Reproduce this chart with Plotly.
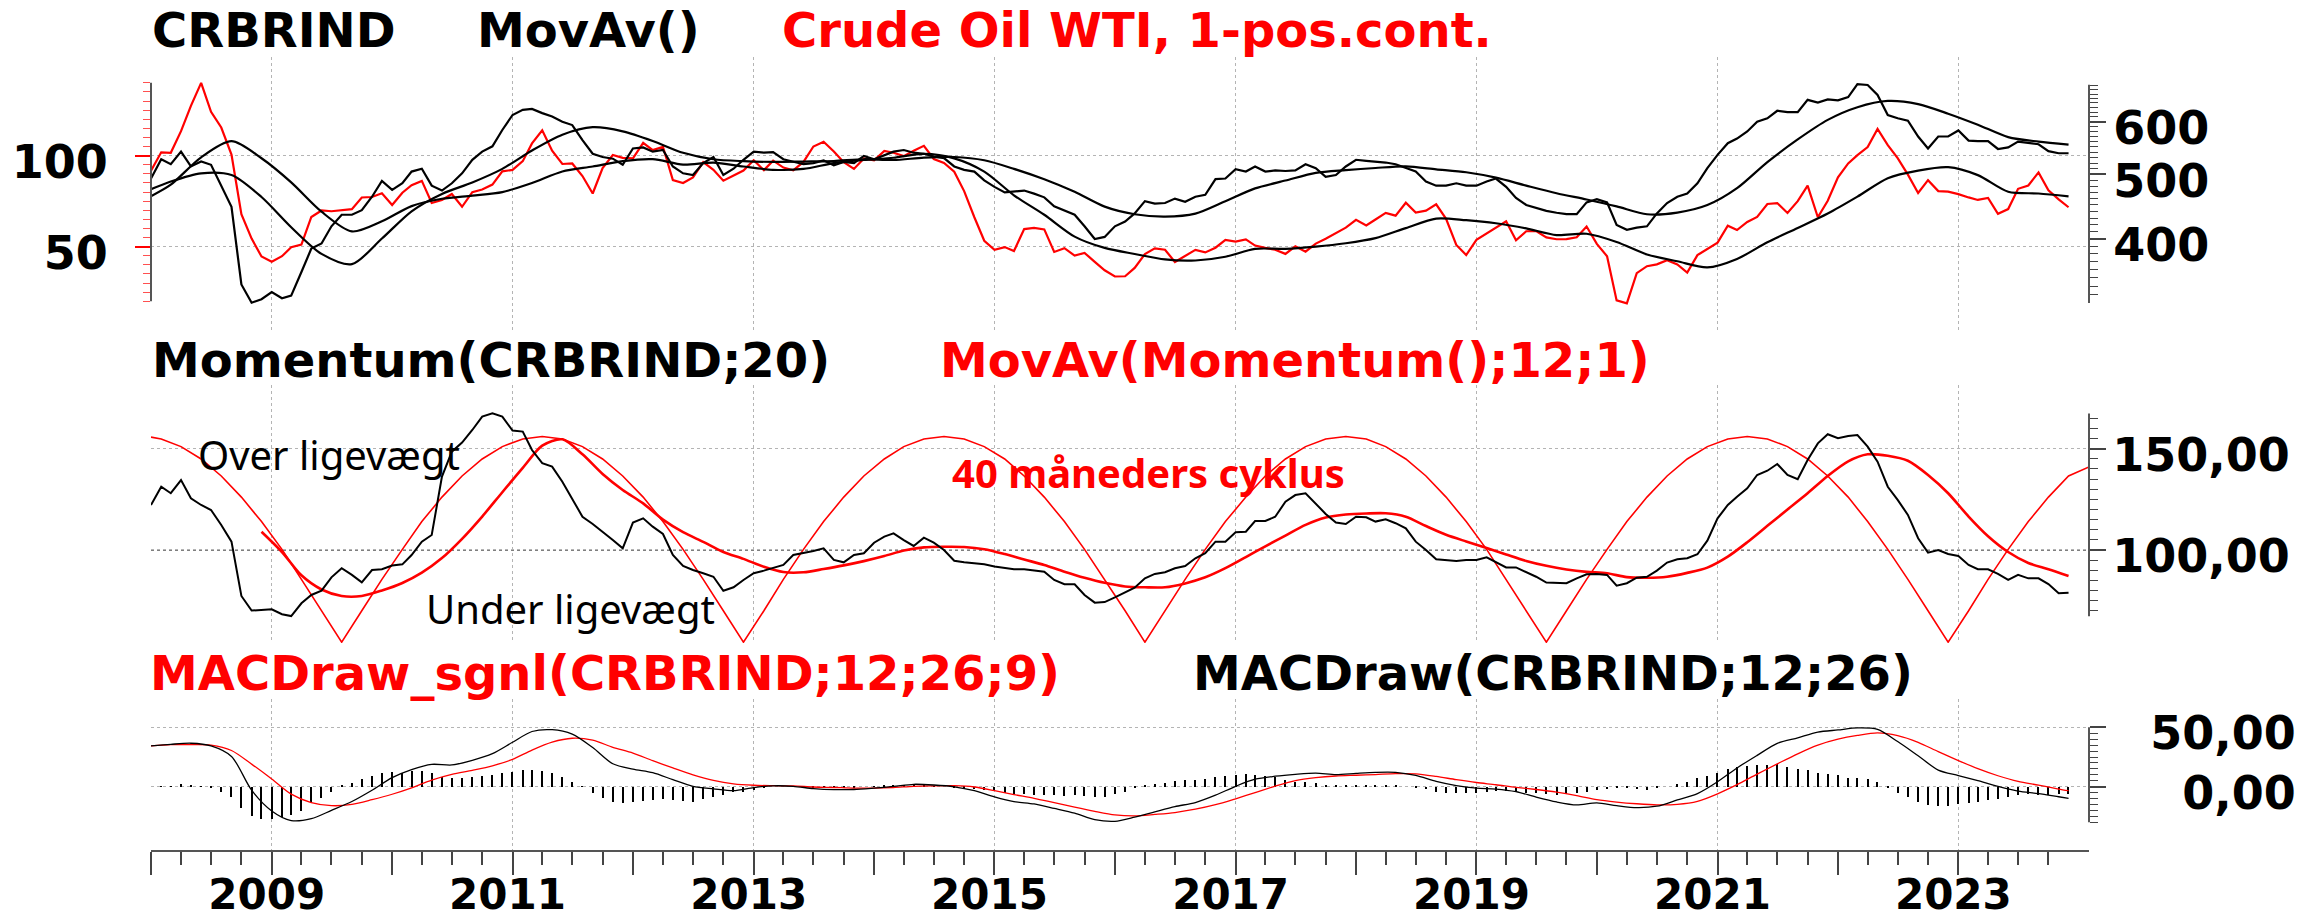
import pandas as pd
import plotly.graph_objects as go

# ---------------- data (monthly, first month = Jan 2008) ----------------
START = pd.Timestamp("2008-01-01")
X_END = "2024-02-01"

wti = [
    91.75, 101.84, 101.58, 113.46, 127.35, 140.00, 124.08, 115.46, 100.64, 67.81, 54.43, 44.60,
    41.68, 44.76, 49.66, 51.12, 66.31, 69.89, 69.45, 69.96, 70.61, 77.00, 77.28, 79.36,
    72.89, 79.66, 83.76, 86.15, 73.97, 75.63, 78.95, 71.92, 79.97, 81.43, 84.11, 91.38,
    92.19, 96.97, 106.72, 113.93, 102.70, 95.42, 95.70, 88.81, 79.20, 93.19, 100.36, 98.83,
    98.48, 107.07, 103.02, 104.87, 86.53, 84.96, 88.06, 96.47, 92.19, 86.24, 88.91, 91.82,
    97.49, 92.05, 97.23, 93.46, 91.97, 96.56, 105.03, 107.65, 102.33, 96.38, 92.72, 98.42,
    97.49, 102.59, 101.58, 99.74, 102.71, 105.37, 98.17, 95.96, 91.16, 80.54, 66.15, 53.27,
    48.24, 49.76, 47.60, 59.63, 60.30, 59.47, 47.12, 49.20, 45.09, 46.59, 41.65, 37.04,
    33.62, 33.75, 38.34, 45.92, 49.10, 48.33, 41.60, 44.70, 48.24, 46.86, 49.44, 53.72,
    52.81, 54.01, 50.60, 49.33, 48.32, 46.04, 50.17, 47.23, 51.67, 54.38, 57.40, 60.42,
    64.73, 61.64, 64.94, 68.57, 67.04, 74.15, 68.76, 69.80, 73.25, 65.31, 50.93, 45.41,
    53.79, 57.22, 60.14, 63.91, 53.50, 58.47, 58.58, 55.10, 54.07, 54.18, 55.17, 61.06,
    51.56, 44.76, 20.48, 18.84, 35.49, 39.27, 40.27, 42.61, 40.22, 35.79, 45.34, 48.52,
    52.20, 61.50, 59.16, 63.58, 66.32, 73.47, 73.95, 68.50, 75.03, 83.57, 66.18, 75.21,
    88.15, 95.72, 100.28, 104.69, 114.67, 105.76, 98.62, 89.55, 79.49, 86.53, 80.55, 80.26,
    78.87, 77.05, 75.67, 76.78, 68.09, 70.64, 81.80, 83.63, 90.79, 81.02, 75.96, 71.65,
]

crb = [
    493, 527, 518, 541, 514, 523, 517, 482, 447, 342, 321, 325,
    333, 326, 329, 357, 387, 394, 418, 435, 435, 442, 463, 489,
    474, 485, 505, 510, 481, 473, 485, 502, 526, 541, 551, 583,
    614, 625, 627, 618, 611, 600, 593, 563, 537, 531, 528, 517,
    547, 549, 541, 544, 514, 502, 499, 520, 531, 499, 510, 526,
    541, 539, 540, 527, 523, 518, 520, 525, 516, 522, 520, 533,
    527, 535, 541, 544, 539, 537, 532, 529, 514, 508, 505, 490,
    479, 470, 471, 473, 468, 462, 448, 442, 435, 418, 400, 403,
    418, 425, 437, 456, 452, 453, 460, 455, 463, 466, 492, 493,
    509, 505, 514, 505, 507, 506, 507, 518, 511, 496, 499, 514,
    526, 524, 523, 521, 518, 512, 505, 488, 481, 481, 485, 481,
    481, 488, 493, 479, 461, 450, 445, 441, 438, 436, 436, 454,
    459, 454, 420, 413, 416, 418, 437, 453, 463, 468, 485, 511,
    535, 557, 566, 580, 600, 607, 623, 620, 620, 647, 641, 648,
    646, 653, 683, 681, 658, 614, 607, 602, 570, 547, 570, 570,
    582, 562, 561, 561, 546, 549, 560, 557, 555, 542, 538, 538,
]

# moving averages read at quarter ends (month offsets)
ma_months = [0] + list(range(2, 192, 3))
wti_ma = [
    77.75,
    84.06, 99.09, 107.95, 98.58, 85.33, 69.20, 58.36, 63.92, 72.27, 76.31,
    78.05, 79.99, 84.95, 91.31, 94.05, 97.00, 98.06, 95.09, 96.17, 94.05,
    92.24, 92.70, 95.90, 97.61, 98.85, 101.00, 98.52, 91.23, 78.22, 67.52,
    55.53, 49.31, 45.98, 42.98, 42.41, 44.47, 48.78, 48.81, 50.02, 51.87,
    54.69, 60.20, 65.42, 64.54, 62.86, 60.04, 56.37, 57.10, 52.57, 45.71,
    41.99, 38.60, 43.27, 52.42, 60.28, 68.22, 77.50, 87.64, 91.82, 93.69,
    89.31, 80.18, 79.22, 77.66,
]
crb_ma = [
    475,
    488, 502, 499, 462.5, 416.7, 380, 366.8, 400.7, 440.3, 467.5,
    486.3, 509.7, 543.2, 573.6, 588.6, 580.3, 561.3, 538.8, 526.9, 523.5,
    522.1, 522.8, 523.7, 527, 525.6, 529.9, 531.1, 525.1, 509.8, 491.8,
    470.9, 447.4, 435.8, 432.3, 436.7, 455.8, 476.5, 489.6, 502.8, 507.6,
    511.3, 514.1, 508.9, 503.8, 494.5, 481.1, 468.6, 458.5, 447.8, 435.8,
    438.3, 449.8, 476.8, 521.8, 564.3, 603.7, 630.7, 644.5, 637.5, 616.8,
    593.7, 568.9, 560, 554.3,
]

momentum = [
    122.2, 131.2, 128, 134.5, 125.5, 122.2, 119.7, 112.3, 104.1, 77.3, 70.1, 70.5,
    70.7, 68.3, 67.4, 73.7, 77.8, 79.9, 86.5, 91, 87.7, 84, 90.1, 90.5,
    92.3, 92.9, 97.5, 104.1, 107.4, 136.2, 148.5, 153, 159.2, 165.8, 167.4, 165.8,
    158.9, 158.4, 149.3, 142.8, 141.1, 133.7, 125.5, 116.4, 112.8, 109, 104.9, 100.8,
    113.5, 115.6, 111.5, 107.9, 97.5, 92.1, 90.1, 88.5, 86.8, 79.9, 81.6, 85.2,
    88.5, 89.8, 91, 92.6, 97.5, 98.4, 99.5, 100.8, 95.1, 93.9, 97.5, 98.4,
    103.6, 106.6, 108.2, 104.9, 102, 106.1, 103.6, 100, 94.7, 93.9, 93.4, 92.9,
    91.8, 91, 90.5, 90.5, 89.8, 89.3, 85.2, 83.1, 83.1, 77.8, 74, 74.3,
    76.6, 78.9, 81.4, 86, 88.2, 89, 91, 92.1, 95.9, 98.4, 104.1, 104.1,
    108.7, 109, 114.3, 114.3, 116.4, 123.8, 127.1, 128, 123, 117.8, 113.5, 112.8,
    116.4, 116.1, 114, 115.1, 113.2, 110.7, 104.1, 100, 95.4, 95.1, 94.6, 95.1,
    95.1, 96.4, 94.2, 91.4, 91.4, 89, 86.8, 83.9, 83.6, 83.6, 86, 88,
    88.2, 87.7, 82.4, 83.6, 86.3, 86.8, 89.8, 93.8, 95.4, 95.9, 97.9, 104.6,
    115.6, 122.2, 126.3, 130.4, 137, 139.1, 142.4, 137, 134.9, 144.4, 152.6, 157.1,
    155.1, 156.2, 156.7, 151, 143.6, 131.2, 124.7, 117.3, 105.8, 98.7, 100, 98,
    97, 92.6, 90.5, 90.5, 88.2, 85.2, 87.7, 86, 86, 83.2, 78.6, 78.9,
]

# MovAv(Momentum();12;1) read every second month from month 11
mom_ma = [
    109, 99, 87.5, 80.5, 77.3, 77.3, 80, 83.7, 88.8, 96,
    105.5, 116.5, 128.5, 140.5, 151.5, 154.6, 147.2, 137.5, 129.6, 123,
    115, 108.8, 104, 99, 95.6, 91.7, 89.1, 89, 90.6, 92.4,
    94.5, 97, 99.7, 101.3, 101.6, 101.5, 100.4, 98, 95.3, 92.6,
    89.3, 86.3, 83.8, 82, 81.6, 81.6, 83.5, 86.5, 91, 96.5,
    101.8, 107.1, 112.4, 116, 117.5, 118, 118.1, 116.4, 111.8, 107.5,
    104.2, 101, 97.8, 94.6, 92.2, 90.4, 89.2, 88.5, 86.6, 86.3,
    86.8, 88.7, 91.3, 96.7, 103.8, 111.9, 120, 128, 136.5, 143.7,
    147.2, 146.5, 144, 137, 128, 116.5, 106.8, 99, 93.6, 90.5,
    87.2,
]
mom_ma_months = [11 + 2 * i for i in range(len(mom_ma))]

# "40 maneders cyklus" curve
cycle_months = [0] + list(range(1, 194, 2))
cycle = [
    155.7,
    154.8, 151, 144.9, 136.5, 126.1, 114, 100.3, 85.5, 70,
    54.5,
    70, 85.5, 100.3, 114, 126.1, 136.5, 144.9, 151, 154.8, 156,
    154.8, 151, 144.9, 136.5, 126.1, 114, 100.3, 85.5, 70, 54.5,
    70, 85.5, 100.3, 114, 126.1, 136.5, 144.9, 151, 154.8, 156,
    154.8, 151, 144.9, 136.5, 126.1, 114, 100.3, 85.5, 70, 54.5,
    70, 85.5, 100.3, 114, 126.1, 136.5, 144.9, 151, 154.8, 156,
    154.8, 151, 144.9, 136.5, 126.1, 114, 100.3, 85.5, 70, 54.5,
    70, 85.5, 100.3, 114, 126.1, 136.5, 144.9, 151, 154.8, 156,
    154.8, 151, 144.9, 136.5, 126.1, 114, 100.3, 85.5, 70, 54.5,
    70, 85.5, 100.3, 114, 126.1, 136.5, 141,
]

# MACD lines read every second month (+ last month)
macd_months = list(range(0, 191, 2)) + [191]
macd = [
    34.3, 35.7, 36.6, 34.4, 25.5, -3, -20.5, -28.6, -27, -20,
    -12.5, -3, 7.6, 14.4, 18.8, 18.3, 22.2, 27.8, 37.4, 46.5,
    48, 44.3, 33, 19.3, 14.8, 11.8, 5.9, 0.3, -1.8, -3.4,
    -0.8, 0.7, 0.3, -1.6, -2.5, -2.4, -1.2, 0.2, 2, 1.4,
    -0.1, -3.4, -8.6, -12.6, -14.6, -18.3, -22.3, -27.8, -29.2, -25.7,
    -21.2, -16.8, -13.4, -7.2, 0.3, 6.3, 8.8, 10.4, 11.4, 10.1,
    11.2, 12.1, 12.1, 9.5, 4.4, 0.9, -1.3, -2, -4.2, -8.8,
    -12.9, -15.4, -13.7, -16, -17.7, -16.5, -11.2, -5.8, 4.2, 15.8,
    26.4, 36.5, 41.2, 46, 47.8, 49.5, 48.3, 38, 26, 14,
    9.4, 5, 0.2, -3.8, -5.8, -8.5,
    -9.8,
]
macd_signal = [
    34.3, 35.4, 35.4, 35, 30.5, 19, 6.5, -6.3, -13.4, -16,
    -15, -11, -6.4, -1, 5.6, 10.4, 13.8, 17.6, 23, 30.8,
    37.5, 40.8, 39.2, 33.2, 28.3, 21.9, 15.8, 10, 5.3, 2.4,
    1.2, 0.8, 0.6, -0.3, -0.7, -1.2, -1.2, -0.7, 0.3, 0.7,
    0.8, -0.3, -3.4, -6.7, -9.8, -13.5, -17.3, -20.8, -23.8, -24.7,
    -23.4, -21.8, -19, -15.2, -10.2, -5, 0.4, 5.1, 7.6, 9,
    9.6, 10.2, 11, 10.8, 8.6, 5.9, 3.5, 1.6, -0.6, -2.4,
    -4.6, -7.5, -11, -13, -14.4, -15.3, -14.9, -12.4, -6, 1.7,
    10.6, 19.2, 27.7, 35, 40, 43.2, 45.3, 43, 37.4, 29.5,
    22, 15.2, 9.2, 4.4, 1.3, -2,
    -3.4,
]
macd_hist = [
    0, 0.3, 0.5, 2, 1, 0.3, -0.5, -4.2, -8.4, -18.3, -24.7, -27.5,
    -27.5, -25.3, -23.9, -20.2, -14, -9.3, -4.2, 0.8, 3.4, 6.2, 9, 11.8,
    12.4, 11.8, 13.5, 13.5, 11.2, 8.4, 7, 7, 7.9, 9, 9.8, 11.2,
    12.6, 14, 14, 13.5, 11.2, 7.9, 4.2, 0.5, -5.6, -9.8, -12.6, -14,
    -12.6, -11.8, -11.2, -10.7, -11.2, -11.8, -12.6, -10.7, -8.4, -7, -4.2, -4.2,
    -2.8, -1, 0, 0, 0, 0, -1, -1, -1, -1.5, -0.5, 0,
    0.5, 1, 1, 1, 1, 1, 0.5, 0, -0.5, -1, -2, -3,
    -4, -5, -6.2, -6.2, -7, -7, -7, -7.9, -7, -7.9, -8.4, -8.4,
    -6.2, -4.2, -1.4, 0.8, 2.2, 3.4, 5.1, 5.6, 5.6, 6.2, 8.4, 9,
    9.8, 10.7, 9.8, 9, 7.9, 5.6, 4.2, 4.2, 2.8, 1.4, 1.4, 1.4,
    0.8, 0.8, 1.4, 0.8, 0.8, 0, -0.6, -2.2, -4.2, -5, -5.6, -5.6,
    -5, -4.2, -3.4, -3.4, -4.2, -5, -5.6, -6.2, -7, -6.2, -5.6, -4.2,
    -2.8, -2, -1.5, -1.4, -2.2, -2.8, -0.8, 0, 2.2, 4.2, 7, 9,
    11.8, 14.6, 16.9, 17.4, 18.3, 18.3, 19.1, 16.9, 14.9, 14, 11.8, 10.7,
    9.8, 7.6, 7.6, 6.2, 3.7, -0.6, -5, -8.4, -12.6, -15.4, -16.3, -16,
    -14.6, -14, -12.6, -11.2, -10.4, -9, -7, -6.2, -7, -7, -6.2, -6.2,
]

# tick values
wti_ticks = [50, 100]
wti_minor = list(range(20, 145, 5))
crb_ticks = [400, 500, 600]
crb_minor = list(range(330, 690, 10))
mom_ticks = [100, 150]
mom_minor = list(range(70, 170, 5))
macd_ticks = [0, 50]
macd_minor = list(range(-30, 50, 5))
label_years = list(range(2009, 2024, 2))
tick_years = list(range(2008, 2024))


def month_dates(months):
    return [START + pd.DateOffset(months=int(m)) for m in months]


dates = month_dates(range(len(wti)))

# ---------------- layout geometry ----------------
W, H = 2315, 922
L, R, T, B = 151, 226, 57, 72
PW, PH = W - L - R, H - T - B


def fx(px):
    return (px - L) / PW


def fy(py):
    return (H - B - py) / PH


top_dom = [fy(330), 1.0]
mid_dom = [fy(643), fy(385)]
bot_dom = [0.0, fy(699)]

RED = "#ff0000"
BOLD = dict(family="DejaVu Sans", size=46, color="black", weight="bold")
XFONT = dict(family="DejaVu Sans", size=42, color="black", weight="bold")
GRID = dict(showgrid=True, gridcolor="#b4b4b4", gridwidth=1, griddash="dot")
YSHIFT = 6

fig = go.Figure()

# top panel
fig.add_trace(go.Scatter(x=dates, y=wti, mode="lines", line=dict(color=RED, width=2.2),
                         xaxis="x", yaxis="y", name="Crude Oil WTI"))
fig.add_trace(go.Scatter(x=month_dates(ma_months), y=wti_ma, mode="lines",
                         line=dict(color="black", width=2.2, shape="spline", smoothing=0.8),
                         xaxis="x", yaxis="y", name="MovAv WTI"))
fig.add_trace(go.Scatter(x=dates, y=crb, mode="lines", line=dict(color="black", width=2.2),
                         xaxis="x", yaxis="y2", name="CRBRIND"))
fig.add_trace(go.Scatter(x=month_dates(ma_months), y=crb_ma, mode="lines",
                         line=dict(color="black", width=2.2, shape="spline", smoothing=0.8),
                         xaxis="x", yaxis="y2", name="MovAv CRBRIND"))

# middle panel
fig.add_trace(go.Scatter(x=month_dates(cycle_months), y=cycle, mode="lines",
                         line=dict(color=RED, width=1.6), xaxis="x2", yaxis="y3", name="cyklus"))
fig.add_trace(go.Scatter(x=month_dates(mom_ma_months), y=mom_ma, mode="lines",
                         line=dict(color=RED, width=2.6, shape="spline", smoothing=0.8),
                         xaxis="x2", yaxis="y3", name="MovAv(Momentum)"))
fig.add_trace(go.Scatter(x=dates, y=momentum, mode="lines", line=dict(color="black", width=2),
                         xaxis="x2", yaxis="y3", name="Momentum"))

# bottom panel
fig.add_trace(go.Bar(x=dates, y=macd_hist, width=3.5 * 86400000,
                     marker=dict(color="black", line=dict(width=0)),
                     xaxis="x3", yaxis="y4", name="hist"))
fig.add_trace(go.Scatter(x=month_dates(macd_months), y=macd_signal, mode="lines",
                         line=dict(color=RED, width=1.3, shape="spline", smoothing=0.8),
                         xaxis="x4", yaxis="y4", name="MACDraw_sgnl"))
fig.add_trace(go.Scatter(x=month_dates(macd_months), y=macd, mode="lines",
                         line=dict(color="black", width=1.3, shape="spline", smoothing=0.8),
                         xaxis="x4", yaxis="y4", name="MACDraw"))

odd_year_dates = [pd.Timestamp(f"{y}-01-01") for y in label_years]
year_dates = [pd.Timestamp(f"{y}-01-01") for y in tick_years]
year_text = [str(y) if y in label_years else "" for y in tick_years]
quarter_dates = [d for d in pd.date_range("2008-01-01", "2023-12-31", freq="QS") if d.month != 1]

xgrid = dict(type="date", range=[START, X_END], tickmode="array", tickvals=odd_year_dates,
             showticklabels=False, ticks="", zeroline=False, showline=False,
             automargin=False, **GRID)

fig.update_layout(
    width=W, height=H, autosize=False,
    margin=dict(l=L, r=R, t=T, b=B, pad=0, autoexpand=False),
    plot_bgcolor="white", paper_bgcolor="white", showlegend=False, bargap=0,
    xaxis=dict(domain=[0, 1], anchor="y", **xgrid),
    xaxis2=dict(domain=[0, 1], anchor="y3", **xgrid),
    xaxis3=dict(domain=[0, 1], anchor="y4", type="date", range=[START, X_END],
                tickmode="array", tickvals=year_dates, ticktext=year_text,
                ticks="outside", ticklen=23, tickwidth=1.5, tickcolor="#444",
                tickfont=XFONT, ticklabelstandoff=-16, ticklabelshift=-5, automargin=False,
                minor=dict(tickmode="array", tickvals=quarter_dates, ticks="outside",
                           ticklen=13, tickwidth=1.5, tickcolor="#444", showgrid=False),
                showgrid=False, zeroline=False, showline=True, linecolor="#555", linewidth=2),
    xaxis4=dict(overlaying="x3", anchor="y4", **xgrid),
    yaxis=dict(domain=top_dom, anchor="x", range=[4.22, 154.2], automargin=False,
               tickmode="array", tickvals=wti_ticks, ticktext=[str(v) for v in wti_ticks],
               ticks="outside", ticklen=15, tickwidth=1.5, tickcolor=RED,
               tickfont=BOLD, ticklabelstandoff=18, ticklabelshift=YSHIFT,
               minor=dict(tickmode="array", tickvals=wti_minor, ticks="outside",
                          ticklen=7, tickwidth=1.2, tickcolor="#ff5050", showgrid=False),
               showline=False, zeroline=False, **GRID),
    yaxis2=dict(overlaying="y", anchor="x", side="right", type="log", automargin=False,
                range=[2.46565, 2.87515],
                tickmode="array", tickvals=crb_ticks, ticktext=[str(v) for v in crb_ticks],
                ticks="outside", ticklen=16, tickwidth=1.5, tickcolor="#444",
                tickfont=BOLD, ticklabelstandoff=-2, ticklabelshift=YSHIFT,
                minor=dict(tickmode="array", tickvals=crb_minor, ticks="outside",
                           ticklen=8, tickwidth=1.2, tickcolor="#444", showgrid=False),
                showgrid=False, zeroline=False, showline=False),
    yaxis3=dict(domain=mid_dom, anchor="x2", side="right", range=[54.1, 181.4],
                automargin=False,
                tickmode="array", tickvals=mom_ticks,
                ticktext=[f"{v},00" for v in mom_ticks],
                ticks="outside", ticklen=16, tickwidth=1.5, tickcolor="#444",
                tickfont=BOLD, ticklabelstandoff=-3, ticklabelshift=YSHIFT,
                minor=dict(tickmode="array", tickvals=mom_minor, ticks="outside",
                           ticklen=8, tickwidth=1.2, tickcolor="#444", showgrid=False),
                zeroline=False, showline=False, **GRID),
    yaxis4=dict(domain=bot_dom, anchor="x3", side="right", range=[-53.4, 73.9],
                automargin=False,
                tickmode="array", tickvals=macd_ticks,
                ticktext=["\u20070,00", "50,00"],
                ticks="outside", ticklen=16, tickwidth=1.5, tickcolor="#444",
                tickfont=BOLD, ticklabelstandoff=35, ticklabelshift=YSHIFT,
                minor=dict(tickmode="array", tickvals=macd_minor, ticks="outside",
                           ticklen=8, tickwidth=1.2, tickcolor="#444", showgrid=False),
                zeroline=False, showline=False, **GRID),
)

axis_line = dict(color="#555", width=2)
fig.update_layout(shapes=[
    dict(type="line", xref="paper", yref="y", x0=0, x1=0,
         y0=min(wti_minor), y1=max(wti_minor), line=axis_line),
    dict(type="line", xref="paper", yref="y", x0=1, x1=1,
         y0=min(wti_minor) - 1, y1=max(wti_minor) - 1, line=axis_line),
    dict(type="line", xref="paper", yref="y3", x0=1, x1=1,
         y0=min(mom_minor) - 2.7, y1=max(mom_minor) + 2.3, line=axis_line),
    dict(type="line", xref="paper", yref="y4", x0=1, x1=1,
         y0=min(macd_minor), y1=max(macd_ticks), line=axis_line),
    dict(type="line", xref="paper", yref="y3", x0=0, x1=1, y0=100, y1=100,
         line=dict(color="black", width=1.2, dash="dot"), layer="between"),
])


def title(text, px, py, color="black", size=48, family="DejaVu Sans", weight="bold"):
    return dict(text=text, xref="paper", yref="paper", x=fx(px), y=fy(py),
                xanchor="left", yanchor="middle", showarrow=False,
                font=dict(family=family, size=size, color=color, weight=weight))


fig.update_layout(annotations=[
    title("CRBRIND", 150, 30),
    title("MovAv()", 475, 30),
    title("Crude Oil WTI, 1-pos.cont.", 780, 30, color=RED),
    title("Momentum(CRBRIND;20)", 150, 360),
    title("MovAv(Momentum();12;1)", 938, 360, color=RED),
    title("MACDraw_sgnl(CRBRIND;12;26;9)", 148, 673, color=RED),
    title("MACDraw(CRBRIND;12;26)", 1191, 673),
    title("Over ligevægt", 196, 455, size=40, family="Noto Sans", weight="normal"),
    title("Under ligevægt", 424, 608, size=40, family="Noto Sans", weight="normal"),
    title("40 måneders cyklus", 950, 472, color=RED, size=40, family="Noto Sans"),
])

fig.write_html("out.html", include_plotlyjs=True, config={"displayModeBar": False},
               post_script="document.body.style.margin='0px';document.body.style.overflow='hidden';")
